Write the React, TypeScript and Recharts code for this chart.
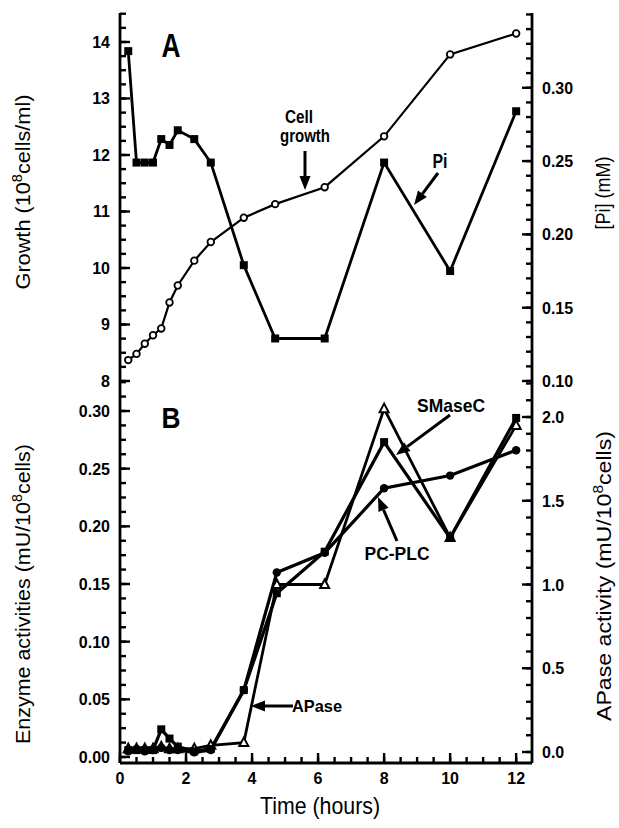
import React from 'react';
import { LineChart, Line, XAxis, YAxis } from 'recharts';

// Panel A: growth of the culture and phosphate in the medium
const timesA = [0.25, 0.5, 0.75, 1.0, 1.25, 1.5, 1.75, 2.25, 2.75, 3.75, 4.7, 6.2, 8, 10, 12];
const growth = [8.37, 8.48, 8.66, 8.81, 8.93, 9.39, 9.69, 10.13, 10.46, 10.89, 11.13, 11.43, 12.33, 13.78, 14.15];
const pi = [0.325, 0.249, 0.249, 0.249, 0.265, 0.261, 0.271, 0.265, 0.249, 0.179, 0.129, 0.129, 0.249, 0.175, 0.284];

// Panel B: enzyme activities
const timesB = [0.25, 0.5, 0.75, 1.0, 1.25, 1.5, 1.75, 2.25, 2.75, 3.75, 4.75, 6.2, 8, 10, 12];
const smaseC = [0.006, 0.006, 0.006, 0.006, 0.024, 0.016, 0.009, 0.005, 0.007, 0.058, 0.142, 0.178, 0.273, 0.19, 0.294];
const pcPlc = [0.005, 0.007, 0.005, 0.006, 0.008, 0.006, 0.006, 0.004, 0.006, 0.058, 0.16, 0.177, 0.233, 0.244, 0.266];
const apase = [0.02, 0.02, 0.02, 0.02, 0.03, 0.02, 0.02, 0.02, 0.04, 0.056, 1.0, 1.0, 2.05, 1.28, 1.95];

// tick labels
const xLabels = [0, 2, 4, 6, 8, 10, 12];
const growthLabels = [8, 9, 10, 11, 12, 13, 14];
const piLabels = [0.1, 0.15, 0.2, 0.25, 0.3];
const enzLabels = [0, 0.05, 0.1, 0.15, 0.2, 0.25, 0.3];
const apLabels = [0, 0.5, 1.0, 1.5, 2.0];

const steps = (from: number, to: number, step: number) => {
  const out: number[] = [];
  for (let i = 0; from + i * step <= to + 1e-9; i++) out.push(+(from + i * step).toFixed(5));
  return out;
};
const xTicks = steps(0, 12, 0.5);
const growthTicks = steps(8, 14.5, 0.25);
const piTicks = steps(0.1, 0.35, 0.01);
const enzTicks = steps(0, 0.325, 0.0125);
const apTicks = steps(0, 2.2, 0.1);

const dataA = timesA.map((t, i) => ({ t, growth: growth[i], pi: pi[i] }));
const dataB = timesB.map((t, i) => ({ t, smaseC: smaseC[i], pcPlc: pcPlc[i], apase: apase[i] }));

const FONT = '"Liberation Sans", Arial, Helvetica, sans-serif';
const TICK = -6; // inward tick length drawn by recharts

const isIn = (arr: number[], v: number) => arr.some((a) => Math.abs(a - v) < 1e-6);

// labels only on the major values; majors get a longer inward tick
function makeTick(side: 'left' | 'right' | 'bottom', labels: number[], fmt: ((v: number) => string) | null) {
  return (props: any) => {
    const x = Number(props.x);
    const y = Number(props.y);
    const v = props.payload.value;
    const major = isIn(labels, v);
    let extra = null;
    let label = null;
    if (side === 'left') {
      const ax = x + TICK; // axis line x
      if (major) extra = <rect x={ax} y={y - 1.2} width={10} height={2.4} fill="#000" />;
      if (major && fmt)
        label = (
          <text x={ax - 10} y={y + 6} textAnchor="end" fontFamily={FONT} fontWeight="bold" fontSize={16} fill="#000">
            {fmt(v)}
          </text>
        );
    } else if (side === 'right') {
      const ax = x - TICK;
      if (major) extra = <rect x={ax - 10} y={y - 1.2} width={10} height={2.4} fill="#000" />;
      if (major && fmt)
        label = (
          <text x={ax + 10} y={y + 6} textAnchor="start" fontFamily={FONT} fontWeight="bold" fontSize={16} fill="#000">
            {fmt(v)}
          </text>
        );
    } else {
      const ay = y - TICK;
      if (major) extra = <rect x={x - 1.2} y={ay - 10} width={2.4} height={10} fill="#000" />;
      if (major && fmt)
        label = (
          <text x={x} y={ay + 21} textAnchor="middle" fontFamily={FONT} fontWeight="bold" fontSize={16} fill="#000">
            {fmt(v)}
          </text>
        );
    }
    return (
      <g key={`${side}${props.index}`}>
        {extra}
        {label}
      </g>
    );
  };
}

const OpenCircle = (p: any) =>
  p.cx == null ? <g key={p.index} /> : <circle key={p.index} cx={p.cx} cy={p.cy} r={3.3} fill="#fff" stroke="#000" strokeWidth={1.8} />;
const FilledCircle = (p: any) =>
  p.cx == null ? <g key={p.index} /> : <circle key={p.index} cx={p.cx} cy={p.cy} r={4.2} fill="#000" />;
const Square = (p: any) =>
  p.cx == null ? <g key={p.index} /> : <rect key={p.index} x={p.cx - 4} y={p.cy - 4} width={8} height={8} fill="#000" />;
const Triangle = (p: any) =>
  p.cx == null ? (
    <g key={p.index} />
  ) : (
    <polygon
      key={p.index}
      points={`${p.cx},${p.cy - 5} ${p.cx - 4.5},${p.cy + 3.5} ${p.cx + 4.5},${p.cy + 3.5}`}
      fill="#fff"
      stroke="#000"
      strokeWidth={2}
    />
  );

const axisLine = { stroke: '#000', strokeWidth: 2.8 };
const tickLine = { stroke: '#000', strokeWidth: 2.4 };

function Arrow({ x1, y1, x2, y2 }: { x1: number; y1: number; x2: number; y2: number }) {
  const a = Math.atan2(y2 - y1, x2 - x1);
  const hl = 14;
  const hw = 5.5;
  const bx = x2 - hl * Math.cos(a);
  const by = y2 - hl * Math.sin(a);
  const px = -Math.sin(a) * hw;
  const py = Math.cos(a) * hw;
  return (
    <g>
      <line x1={x1} y1={y1} x2={bx} y2={by} stroke="#000" strokeWidth={3} />
      <polygon points={`${x2},${y2} ${bx + px},${by + py} ${bx - px},${by - py}`} fill="#000" />
    </g>
  );
}

// condensed look: squeeze the Liberation glyphs into the measured lengths
function Note({ x, y, len, size, children, anchor = 'middle' }: any) {
  return (
    <text x={x} y={y} textAnchor={anchor} fontFamily={FONT} fontWeight="bold" fontSize={size} textLength={len} lengthAdjust="spacingAndGlyphs">
      {children}
    </text>
  );
}

export default function App() {
  return (
    <div style={{ position: 'absolute', left: 0, top: 0, width: 619, height: 828, background: '#fff' }}>
      {/* Panel A */}
      <div style={{ position: 'absolute', left: 0, top: 0 }}>
        <LineChart width={619} height={400} data={dataA} margin={{ top: 13, right: 0, bottom: 19, left: 0 }}>
          <XAxis
            dataKey="t"
            type="number"
            domain={[0, 12.48]}
            ticks={xTicks}
            interval={0}
            height={0}
            tickSize={TICK}
            tickMargin={0}
            tickLine={tickLine}
            axisLine={axisLine}
            tick={makeTick('bottom', xLabels, null)}
          />
          <XAxis xAxisId="top" orientation="top" dataKey="t" type="number" domain={[0, 12.48]} height={0} tick={false} tickLine={false} axisLine={axisLine} />
          <YAxis
            yAxisId="left"
            type="number"
            domain={[8, 14.513]}
            ticks={growthTicks}
            interval={0}
            width={120}
            tickSize={TICK}
            tickMargin={0}
            tickLine={tickLine}
            axisLine={axisLine}
            tick={makeTick('left', growthLabels, (v) => String(v))}
          />
          <YAxis
            yAxisId="right"
            orientation="right"
            type="number"
            domain={[0.1, 0.351]}
            ticks={piTicks}
            interval={0}
            width={87}
            tickSize={TICK}
            tickMargin={0}
            tickLine={tickLine}
            axisLine={axisLine}
            tick={makeTick('right', piLabels, (v) => v.toFixed(2))}
          />
          <Line yAxisId="left" dataKey="growth" type="linear" stroke="#000" strokeWidth={2.2} dot={OpenCircle} isAnimationActive={false} />
          <Line yAxisId="right" dataKey="pi" type="linear" stroke="#000" strokeWidth={2.8} dot={Square} isAnimationActive={false} />
        </LineChart>
      </div>

      {/* Panel B */}
      <div style={{ position: 'absolute', left: 0, top: 370 }}>
        <LineChart width={619} height={458} data={dataB} margin={{ top: 11, right: 0, bottom: 0, left: 0 }}>
          <XAxis
            dataKey="t"
            type="number"
            domain={[0, 12.48]}
            ticks={xTicks}
            interval={0}
            height={65}
            tickSize={TICK}
            tickMargin={0}
            tickLine={tickLine}
            axisLine={axisLine}
            tick={makeTick('bottom', xLabels, (v) => String(v))}
          />
          <YAxis
            yAxisId="left"
            type="number"
            domain={[-0.0052, 0.326]}
            ticks={enzTicks}
            interval={0}
            width={120}
            tickSize={TICK}
            tickMargin={0}
            tickLine={tickLine}
            axisLine={axisLine}
            tick={makeTick('left', enzLabels, (v) => v.toFixed(2))}
          />
          <YAxis
            yAxisId="right"
            orientation="right"
            type="number"
            domain={[-0.0657, 2.215]}
            ticks={apTicks}
            interval={0}
            width={87}
            tickSize={TICK}
            tickMargin={0}
            tickLine={tickLine}
            axisLine={axisLine}
            tick={makeTick('right', apLabels, (v) => v.toFixed(1))}
          />
          <Line yAxisId="right" dataKey="apase" type="linear" stroke="#000" strokeWidth={2.8} dot={Triangle} isAnimationActive={false} />
          <Line yAxisId="left" dataKey="pcPlc" type="linear" stroke="#000" strokeWidth={3.2} dot={FilledCircle} isAnimationActive={false} />
          <Line yAxisId="left" dataKey="smaseC" type="linear" stroke="#000" strokeWidth={3.2} dot={Square} isAnimationActive={false} />
        </LineChart>
      </div>

      {/* titles and annotations */}
      <svg width={619} height={828} style={{ position: 'absolute', left: 0, top: 0, pointerEvents: 'none' }}>
        <Note x={171} y={57} len={19} size={34}>A</Note>
        <Note x={171} y={428} len={19} size={30}>B</Note>

        <text transform="rotate(-90 30 192)" x={30} y={192} textAnchor="middle" fontFamily={FONT} fontSize={21} textLength={195} lengthAdjust="spacingAndGlyphs">
          Growth (10<tspan dy={-8} fontSize={14}>8</tspan><tspan dy={8}>cells/ml)</tspan>
        </text>
        <text transform="rotate(-90 30 594)" x={30} y={594} textAnchor="middle" fontFamily={FONT} fontSize={21} textLength={300} lengthAdjust="spacingAndGlyphs">
          Enzyme activities (mU/10<tspan dy={-8} fontSize={14}>8</tspan><tspan dy={8}>cells)</tspan>
        </text>
        <text transform="rotate(-90 610 193)" x={610} y={193} textAnchor="middle" fontFamily={FONT} fontSize={21} textLength={73} lengthAdjust="spacingAndGlyphs">
          [Pi] (mM)
        </text>
        <text transform="rotate(-90 611 576)" x={611} y={576} textAnchor="middle" fontFamily={FONT} fontSize={21} textLength={290} lengthAdjust="spacingAndGlyphs">
          APase activity (mU/10<tspan dy={-8} fontSize={14}>8</tspan><tspan dy={8}>cells)</tspan>
        </text>
        <text x={320} y={814} textAnchor="middle" fontFamily={FONT} fontSize={24} textLength={120} lengthAdjust="spacingAndGlyphs">
          Time (hours)
        </text>

        <Note x={299} y={123} len={28} size={19}>Cell</Note>
        <Note x={305} y={142} len={50} size={19}>growth</Note>
        <Arrow x1={305} y1={151} x2={305} y2={190} />

        <Note x={440} y={168} len={15} size={20}>Pi</Note>
        <Arrow x1={438} y1={173} x2={414} y2={205} />

        <Note x={451} y={412} len={68} size={19}>SMaseC</Note>
        <Arrow x1={450} y1={415} x2={396} y2={455} />

        <Note x={397} y={560} len={65} size={19}>PC-PLC</Note>
        <Arrow x1={397} y1={541} x2={378} y2={497} />

        <Note x={292} y={712} len={50} size={17} anchor="start">APase</Note>
        <Arrow x1={293} y1={706} x2={251} y2={706} />
      </svg>
    </div>
  );
}
